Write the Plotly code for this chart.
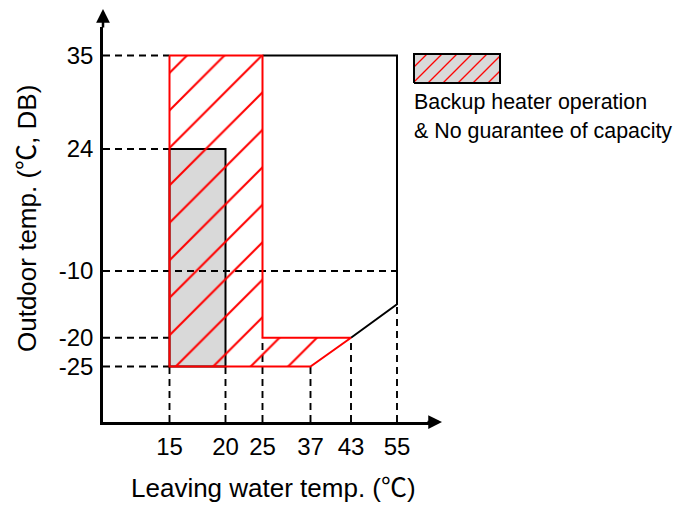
import numpy as np
import plotly.graph_objects as go

# ---------------- data ----------------
x_ticks = [15, 20, 25, 37, 43, 55]
y_ticks = [35, 24, -10, -20, -25]
x_tick_labels = ["15", "20", "25", "37", "43", "55"]
y_tick_labels = ["35", "24", "-10", "-20", "-25"]

# backup heater operation & no guarantee of capacity (hatched, red)
backup_x = [15, 25, 25, 43, 37, 15, 15]
backup_y = [35, 35, -20, -20, -25, -25, 35]
# grey zone
grey_x = [15, 20, 20, 15, 15]
grey_y = [24, 24, -25, -25, 24]
# remaining operating-limit boundary (black)
limit_x = [25, 55, 55, 43]
limit_y = [35, 35, -15, -20]

# dashed guide lines
h_guides_y = [35, 24, -10, -20, -25]
h_guides_x_end = [15, 15, 55, 15, 15]
v_guides_x = [15, 20, 25, 37, 43, 55]
v_guides_y_end = [-25, -25, -20, -25, -20, -15]

legend_lines = ["Backup heater operation", "& No guarantee of capacity"]
x_title = "Leaving water temp. (℃)"
y_title = "Outdoor temp. (℃, DB)"

# ---------------- schematic (non-linear) scale, pixel units ----------------
OFF = 8                      # page body margin
W, H = 689 - OFF, 506 - OFF


def P(v):                    # screen pixel -> figure pixel
    return v - OFF


X_AX = (P(103), P(432))      # plot area x span
Y_AX = (P(27), P(422))       # plot area y span (top, bottom)
X_TIP, Y_TIP = P(442), P(7)  # arrow tips
x_anchor_px = [P(v) for v in [169.5, 225.5, 262.5, 310.5, 351, 397]]
y_anchor_px = [P(v) for v in [55.5, 149, 271, 337.7, 366.5]]


def sx(v):
    return np.interp(np.asarray(v, float), x_ticks, x_anchor_px)


def sy(v):
    return np.interp(np.asarray(v, float), y_ticks[::-1], y_anchor_px[::-1])


# guide segments
gx, gy = [], []
for yv, xe in zip(h_guides_y, h_guides_x_end):
    gx += [X_AX[0], float(sx(xe)), None]
    gy += [float(sy(yv)), float(sy(yv)), None]
for xv, ye in zip(v_guides_x, v_guides_y_end):
    gx += [float(sx(xv)), float(sx(xv)), None]
    gy += [Y_AX[1], float(sy(ye)), None]

FONT = "Liberation Sans, Arial, Noto Sans CJK SC, sans-serif"

fig = go.Figure()

fig.add_trace(go.Scatter(
    x=sx(grey_x), y=sy(grey_y), mode="lines", fill="toself",
    fillcolor="#d9d9d9", line=dict(color="black", width=2),
    hoverinfo="skip", showlegend=False))

fig.add_trace(go.Scatter(
    x=gx, y=gy, mode="lines",
    line=dict(color="black", width=1.9, dash="7px,5px"),
    hoverinfo="skip", showlegend=False))

fig.add_trace(go.Scatter(
    x=sx(limit_x), y=sy(limit_y), mode="lines",
    line=dict(color="black", width=2),
    hoverinfo="skip", showlegend=False))

fig.add_trace(go.Scatter(
    x=sx(backup_x), y=sy(backup_y), mode="lines", fill="toself",
    fillcolor="rgba(255,0,0,1)",
    fillpattern=dict(shape="/", fgcolor="#ff0000", bgcolor="rgba(0,0,0,0)",
                     fgopacity=1, size=26.5, solidity=0.078),
    line=dict(color="red", width=2),
    hoverinfo="skip", showlegend=False))

# legend swatch on its own small axes
fig.add_trace(go.Scatter(
    x=[0, 1, 1, 0, 0], y=[0, 0, 1, 1, 0], mode="lines", fill="toself",
    fillcolor="#ff0000",
    fillpattern=dict(shape="/", fgcolor="#ff0000", bgcolor="#d9d9d9",
                     fgopacity=1, size=10.6, solidity=0.125),
    line=dict(color="black", width=2),
    xaxis="x2", yaxis="y2", hoverinfo="skip", showlegend=False))

annotations = [
    dict(x=X_AX[0] / W, y=1 - Y_TIP / H, xref="paper", yref="paper",
         ax=0, ay=22, text="", showarrow=True, arrowhead=2,
         arrowsize=1.1, arrowwidth=2.5, arrowcolor="black"),
    dict(x=X_TIP / W, y=1 - Y_AX[1] / H, xref="paper", yref="paper",
         ax=-16, ay=0, text="", showarrow=True, arrowhead=2,
         arrowsize=1.1, arrowwidth=2.5, arrowcolor="black"),
    dict(x=P(273) / W, y=1 - P(488) / H, xref="paper", yref="paper",
         text=x_title, showarrow=False, xanchor="center", yanchor="middle",
         font=dict(family=FONT, size=26, color="black")),
    dict(x=P(27) / W, y=1 - P(219) / H, xref="paper", yref="paper",
         text=y_title, showarrow=False, textangle=-90,
         xanchor="center", yanchor="middle",
         font=dict(family=FONT, size=26, color="black")),
]
for i, t in enumerate(legend_lines):
    annotations.append(dict(
        x=P(412) / W, y=1 - P(102 + 29 * i) / H, xref="paper", yref="paper",
        text=t, showarrow=False, xanchor="left", yanchor="middle",
        font=dict(family=FONT, size=21.4, color="black")))

fig.update_layout(
    width=W, height=H,
    margin=dict(l=0, r=0, t=0, b=0),
    paper_bgcolor="white", plot_bgcolor="white",
    showlegend=False,
    xaxis=dict(domain=[X_AX[0] / W, X_AX[1] / W], range=list(X_AX),
               showline=True, linecolor="black", linewidth=2.5,
               showgrid=False, zeroline=False, ticks="",
               tickvals=list(sx(x_ticks)), ticktext=x_tick_labels,
               tickfont=dict(family=FONT, size=24, color="black"),
               ticklabelstandoff=1, anchor="y", fixedrange=True),
    yaxis=dict(domain=[1 - Y_AX[1] / H, 1 - Y_AX[0] / H],
               range=[Y_AX[1], Y_AX[0]],
               showline=True, linecolor="black", linewidth=2.5,
               showgrid=False, zeroline=False, ticks="",
               tickvals=list(sy(y_ticks)), ticktext=y_tick_labels,
               tickfont=dict(family=FONT, size=24, color="black"),
               ticklabelstandoff=2, anchor="x", fixedrange=True),
    xaxis2=dict(domain=[P(413) / W, P(501) / W], range=[-1 / 86, 1 + 1 / 86],
                visible=False, anchor="y2", fixedrange=True),
    yaxis2=dict(domain=[1 - P(84) / H, 1 - P(53) / H],
                range=[-1 / 29, 1 + 1 / 29],
                visible=False, anchor="x2", fixedrange=True),
    annotations=annotations,
)

fig.write_html("out.html")
